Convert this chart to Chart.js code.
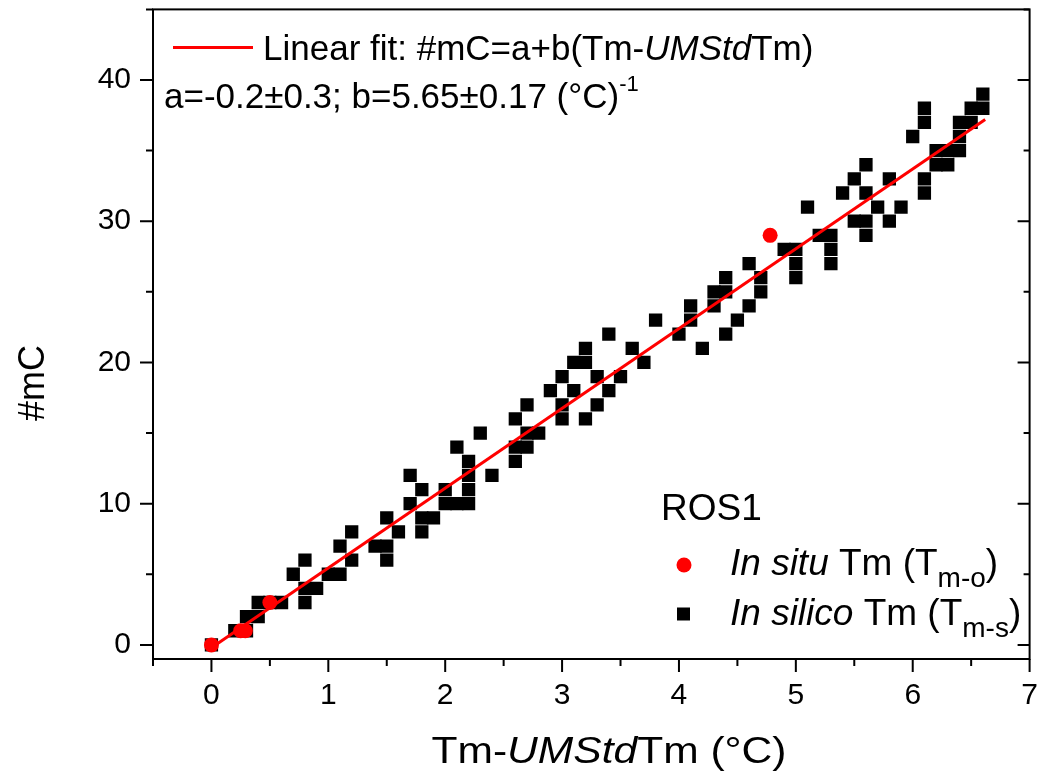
<!DOCTYPE html>
<html>
<head>
<meta charset="utf-8">
<script src="https://cdn.jsdelivr.net/npm/chart.js@4.4.1/dist/chart.umd.min.js"></script>
<style>
  html, body { margin: 0; padding: 0; background: #fff; }
</style>
</head>
<body>
<canvas id="tmChart" width="1039" height="774"></canvas>
<script>
// In silico Tm points (black squares)
const silicoX = [0, 0.2, 0.3, 0.3, 0.4, 0.4, 0.5, 0.6, 0.7, 0.8, 0.8, 0.8, 0.9, 1.0, 1.1, 1.1, 1.2, 1.2,
  1.4, 1.5, 1.5, 1.5, 1.6, 1.7, 1.7, 1.8, 1.8, 1.8, 1.9, 2.0, 2.0, 2.1, 2.1, 2.2, 2.2, 2.2, 2.2,
  2.3, 2.4, 2.6, 2.6, 2.6, 2.7, 2.7, 2.7, 2.8, 2.9, 3.0, 3.0, 3.0, 3.1, 3.1, 3.2, 3.2, 3.2,
  3.3, 3.3, 3.4, 3.4, 3.5, 3.6, 3.7, 3.8, 4.0, 4.1, 4.1, 4.2, 4.3, 4.3, 4.4, 4.4, 4.4, 4.5,
  4.6, 4.6, 4.7, 4.7, 4.9, 5.0, 5.0, 5.0, 5.1, 5.2, 5.3, 5.3, 5.3, 5.4, 5.5, 5.5, 5.6, 5.6,
  5.6, 5.6, 5.7, 5.8, 5.8, 5.9, 6.0, 6.1, 6.1, 6.1, 6.1, 6.2, 6.2, 6.3, 6.3, 6.4, 6.4, 6.4,
  6.5, 6.5, 6.6, 6.6];
const silicoY = [0, 1, 1, 2, 2, 3, 3, 3, 5, 6, 4, 3, 4, 5, 7, 5, 8, 6,
  7, 9, 7, 6, 8, 12, 10, 11, 9, 8, 9, 11, 10, 14, 10, 13, 12, 11, 10,
  15, 12, 16, 14, 13, 17, 15, 14, 15, 18, 19, 17, 16, 20, 18, 21, 20, 16,
  19, 17, 22, 18, 19, 21, 20, 23, 22, 24, 23, 21, 25, 24, 26, 25, 22, 23,
  27, 24, 26, 25, 28, 28, 27, 26, 31, 29, 29, 28, 27, 32, 33, 30, 34, 32,
  30, 29, 31, 33, 30, 31, 36, 38, 37, 33, 32, 35, 34, 35, 34, 37, 36, 35,
  38, 37, 39, 38];

// In situ Tm points (red circles)
const situX = [0, 0.25, 0.29, 0.5, 4.78];
const situY = [0, 1, 1, 3, 29];

// linear fit end points
const fitX = [0, 6.62];
const fitY = [-0.2, 37.2];

const xTicks = [0, 1, 2, 3, 4, 5, 6, 7];
const yTicks = [0, 10, 20, 30, 40];
const xMinor = [-0.5, 0.5, 1.5, 2.5, 3.5, 4.5, 5.5, 6.5];
const yMinor = [5, 15, 25, 35, 45];

const FONT = "'Liberation Sans', Arial, Helvetica, sans-serif";

const toPts = (xs, ys) => xs.map((v, i) => ({ x: v, y: ys[i] }));

// draws a row of text pieces one after the other, returns the end x
function runs(ctx, x, y, parts, size, measureOnly) {
  let cx = x;
  parts.forEach(p => {
    const s = p.size || size;
    ctx.font = (p.italic ? 'italic ' : '') + s + 'px ' + FONT;
    if (!measureOnly) ctx.fillText(p.t, cx, y + (p.dy || 0));
    cx += ctx.measureText(p.t).width;
  });
  return cx;
}

// no extra room for label overhang, the plot box is fixed
function noPad(s) {
  s.paddingLeft = 0; s.paddingRight = 0; s.paddingTop = 0; s.paddingBottom = 0;
}

const frame = {
  id: 'frame',
  afterDraw(chart) {
    const { ctx, chartArea: a, scales: { x, y } } = chart;
    ctx.save();
    ctx.strokeStyle = '#000';
    ctx.lineWidth = 2;
    ctx.strokeRect(a.left, a.top, a.right - a.left, a.bottom - a.top);

    ctx.beginPath();
    xTicks.forEach(v => { const p = x.getPixelForValue(v); ctx.moveTo(p, a.bottom); ctx.lineTo(p, a.bottom + 13); });
    xMinor.forEach(v => { const p = x.getPixelForValue(v); ctx.moveTo(p, a.bottom); ctx.lineTo(p, a.bottom + 7); });
    yTicks.forEach(v => {
      const p = y.getPixelForValue(v);
      ctx.moveTo(a.left - 13, p); ctx.lineTo(a.left, p);
      ctx.moveTo(a.right, p); ctx.lineTo(a.right - 12, p);
    });
    yMinor.forEach(v => {
      const p = y.getPixelForValue(v);
      ctx.moveTo(a.left - 7, p); ctx.lineTo(a.left, p);
      ctx.moveTo(a.right, p); ctx.lineTo(a.right - 6, p);
    });
    ctx.stroke();

    ctx.fillStyle = '#000';
    ctx.textBaseline = 'alphabetic';
    ctx.textAlign = 'left';

    // fit legend, top left
    ctx.strokeStyle = '#ff0000';
    ctx.lineWidth = 3;
    ctx.beginPath(); ctx.moveTo(173, 47.5); ctx.lineTo(253, 47.5); ctx.stroke();
    runs(ctx, 263, 60, [{ t: 'Linear fit: #mC=a+b(Tm-' }, { t: 'UMStd', italic: true }, { t: 'Tm)' }], 35);
    runs(ctx, 164, 108, [{ t: 'a=-0.2±0.3; b=5.65±0.17 (°C)' }, { t: '-1', size: 22, dy: -17 }], 35);

    // series legend, bottom right
    runs(ctx, 661, 520, [{ t: 'ROS1' }], 37);
    ctx.fillStyle = '#ff0000';
    ctx.beginPath(); ctx.arc(684, 565, 7.5, 0, Math.PI * 2); ctx.fill();
    ctx.fillStyle = '#000';
    ctx.fillRect(677, 607.5, 13, 13);
    runs(ctx, 730, 575, [{ t: 'In situ', italic: true }, { t: ' Tm (T' }, { t: 'm-o', size: 28, dy: 12 }, { t: ')' }], 37);
    runs(ctx, 730, 625, [{ t: 'In silico', italic: true }, { t: ' Tm (T' }, { t: 'm-s', size: 28, dy: 12 }, { t: ')' }], 37);

    // axis titles
    const xt = [{ t: 'Tm-' }, { t: 'UMStd', italic: true }, { t: 'Tm (°C)' }];
    const w = runs(ctx, 0, 0, xt, 37, true);
    ctx.save();
    ctx.translate(609, 763);
    ctx.scale(1.15, 1);
    runs(ctx, -w / 2, 0, xt, 37);
    ctx.restore();

    ctx.translate(34, 383);
    ctx.rotate(-Math.PI / 2);
    ctx.textAlign = 'center';
    ctx.textBaseline = 'middle';
    ctx.font = '36px ' + FONT;
    ctx.fillText('#mC', 0, 0);
    ctx.restore();
  }
};

new Chart('tmChart', {
  type: 'scatter',
  data: {
    datasets: [{
      label: 'In situ Tm',
      data: toPts(situX, situY),
      pointStyle: 'circle',
      pointRadius: 7.5,
      pointBackgroundColor: '#ff0000',
      pointBorderWidth: 0,
      order: 0
    }, {
      label: 'Linear fit',
      data: toPts(fitX, fitY),
      showLine: true,
      borderColor: '#ff0000',
      borderWidth: 3,
      pointRadius: 0,
      order: 1
    }, {
      label: 'In silico Tm',
      data: toPts(silicoX, silicoY),
      pointStyle: 'rect',
      pointRadius: 9.4,
      pointBackgroundColor: '#000',
      pointBorderWidth: 0,
      order: 2
    }]
  },
  options: {
    responsive: false,
    animation: false,
    layout: { padding: { left: 0, right: 8, top: 9, bottom: 0 } },
    plugins: { legend: { display: false }, tooltip: { enabled: false } },
    scales: {
      x: {
        min: -0.5, max: 7,
        afterBuildTicks: s => { s.ticks = xTicks.map(v => ({ value: v })); },
        afterFit: s => { s.height = 115; noPad(s); },
        grid: { display: false, drawTicks: false },
        border: { display: false },
        ticks: { color: '#000', padding: 19, maxRotation: 0, font: { family: FONT, size: 30 } }
      },
      y: {
        min: -1, max: 45,
        afterBuildTicks: s => { s.ticks = yTicks.map(v => ({ value: v })); },
        afterFit: s => { s.width = 153; noPad(s); },
        grid: { display: false, drawTicks: false },
        border: { display: false },
        ticks: { color: '#000', padding: 22, font: { family: FONT, size: 30 } }
      }
    }
  },
  plugins: [frame]
});
</script>
</body>
</html>
